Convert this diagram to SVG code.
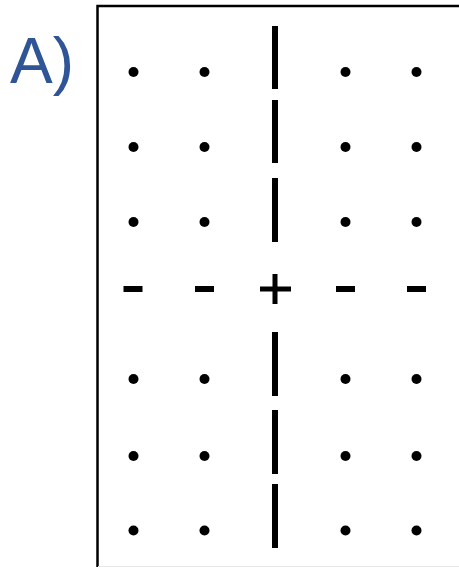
<svg xmlns="http://www.w3.org/2000/svg" width="459" height="567" viewBox="0 0 459 567">
<style>
.dot{fill:#000}
.bar{fill:#000}
.lbl{font-family:"Liberation Sans",Arial,sans-serif;font-size:64px;fill:#2F5597}
</style>
<rect x="0" y="0" width="459" height="567" fill="#fff"/>
<text class="lbl" x="10" y="83">A)</text>
<g id="frame" fill="none" stroke="#000" stroke-width="2.5">
<polyline points="97.5,567 97.5,6 460,6"/>
</g>
<line x1="98" y1="566.5" x2="459" y2="566.5" stroke="#e6e6e6" stroke-width="1"/>
<g id="dots">
<circle class="dot" cx="133.5" cy="72" r="5"/><circle class="dot" cx="204.5" cy="72" r="5"/><circle class="dot" cx="345.5" cy="72" r="5"/><circle class="dot" cx="416.5" cy="72" r="5"/>
<circle class="dot" cx="133.5" cy="147" r="5"/><circle class="dot" cx="204.5" cy="147" r="5"/><circle class="dot" cx="345.5" cy="147" r="5"/><circle class="dot" cx="416.5" cy="147" r="5"/>
<circle class="dot" cx="133.5" cy="222" r="5"/><circle class="dot" cx="204.5" cy="222" r="5"/><circle class="dot" cx="345.5" cy="222" r="5"/><circle class="dot" cx="416.5" cy="222" r="5"/>
<circle class="dot" cx="133.5" cy="379" r="5"/><circle class="dot" cx="204.5" cy="379" r="5"/><circle class="dot" cx="345.5" cy="379" r="5"/><circle class="dot" cx="416.5" cy="379" r="5"/>
<circle class="dot" cx="133.5" cy="456" r="5"/><circle class="dot" cx="204.5" cy="456" r="5"/><circle class="dot" cx="345.5" cy="456" r="5"/><circle class="dot" cx="416.5" cy="456" r="5"/>
<circle class="dot" cx="133.5" cy="530.5" r="5"/><circle class="dot" cx="204.5" cy="530.5" r="5"/><circle class="dot" cx="345.5" cy="530.5" r="5"/><circle class="dot" cx="416.5" cy="530.5" r="5"/>
</g>
<g id="bars">
<rect class="bar" x="272" y="26" width="6" height="63"/>
<rect class="bar" x="272" y="100" width="6" height="63"/>
<rect class="bar" x="272" y="178" width="6" height="64"/>
<rect class="bar" x="272" y="332" width="6" height="64"/>
<rect class="bar" x="272" y="410" width="6" height="64"/>
<rect class="bar" x="272" y="484" width="6" height="64"/>
</g>
<g id="dashes">
<rect class="bar" x="123.5" y="286" width="19" height="6"/>
<rect class="bar" x="195" y="286" width="19" height="6"/>
<rect class="bar" x="336" y="286" width="19" height="6"/>
<rect class="bar" x="407" y="286" width="19" height="6"/>
</g>
<g id="plus" fill="#000">
<rect x="260" y="286.5" width="31" height="5"/>
<rect x="272.5" y="274" width="5" height="30"/>
</g>
</svg>
